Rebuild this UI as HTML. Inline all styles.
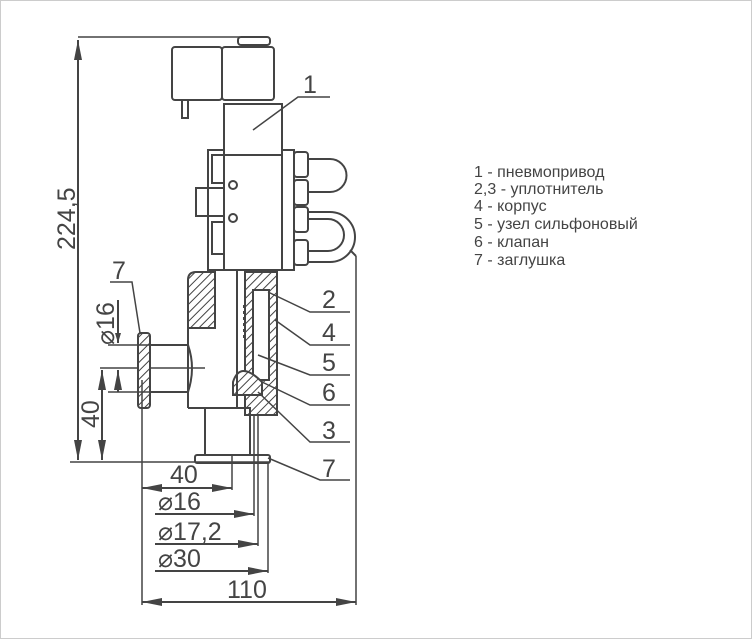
<!DOCTYPE html>
<html><head><style>
html,body{margin:0;padding:0;background:#fff;}
svg{display:block;}
text{font-family:"Liberation Sans",sans-serif;fill:#444;}
</style></head><body>
<svg width="752" height="639" viewBox="0 0 752 639" xmlns="http://www.w3.org/2000/svg">
<defs>
<pattern id="h" width="6" height="6" patternUnits="userSpaceOnUse" patternTransform="rotate(45)">
<rect width="6" height="6" fill="#fff"/><line x1="0" y1="0" x2="0" y2="6" stroke="#444" stroke-width="2"/></pattern>
<marker id="a" viewBox="0 0 10 6" refX="10" refY="3" markerWidth="10" markerHeight="6" orient="auto-start-reverse" markerUnits="userSpaceOnUse"><path d="M0,0L10,3L0,6z" fill="#444"/></marker>
<marker id="b" viewBox="0 0 20 8" refX="20" refY="4" markerWidth="20" markerHeight="8" orient="auto-start-reverse" markerUnits="userSpaceOnUse"><path d="M0,0L20,4L0,8z" fill="#444"/></marker>
</defs>
<rect x="0.5" y="0.5" width="751" height="638" fill="#fff" stroke="#ccc"/>
<g stroke="#444" stroke-width="2" fill="none">
<line x1="78" y1="37" x2="240" y2="37" stroke-width="1.5"/>
<line x1="78" y1="40" x2="78" y2="460" marker-start="url(#b)" marker-end="url(#b)"/>
<line x1="70" y1="462" x2="270" y2="462" stroke-width="1.5"/>
<rect x="238" y="37" width="32" height="8" rx="3"/>
<rect x="172" y="47" width="50" height="53" rx="3"/>
<rect x="222" y="47" width="52" height="53" rx="3"/>
<rect x="182" y="100" width="6" height="18"/>
<rect x="224" y="104" width="58" height="51"/>
<rect x="224" y="155" width="58" height="115"/>
<circle cx="233" cy="185" r="4"/><circle cx="233" cy="218" r="4"/>
<rect x="208" y="150" width="16" height="120"/>
<rect x="212" y="155" width="12" height="28"/>
<rect x="196" y="188" width="28" height="28"/>
<rect x="212" y="222" width="12" height="32"/>
<rect x="282" y="150" width="12" height="120"/>
<rect x="294" y="152" width="14" height="25" rx="3"/>
<rect x="294" y="180" width="14" height="25" rx="3"/>
<rect x="294" y="207" width="14" height="25" rx="3"/>
<rect x="294" y="240" width="14" height="25" rx="3"/>
<path d="M308,159 H330 A16,16 0 0 1 330,192 H308"/>
<path d="M308,212 H330 A25,25 0 0 1 330,262 H308"/>
<path d="M308,219 H328 A16,16 0 0 1 328,251 H308"/>
<line x1="350" y1="250" x2="356" y2="256"/>
<line x1="356" y1="256" x2="356" y2="605" stroke-width="1.5"/>
<polyline points="253,130 298,97 330,97" stroke-width="1.5"/>
<path d="M188,280 Q188,272 196,272 H215 V328 H188 Z" fill="url(#h)"/>
<line x1="188" y1="328" x2="188" y2="408"/>
<path d="M188,408 H245"/>
<rect x="245" y="272" width="32" height="143" fill="url(#h)"/>
<rect x="253" y="290" width="16" height="90" fill="#fff"/>
<path d="M233,382 Q240,360 262,382 L262,395 H233 Z" fill="url(#h)"/>
<line x1="237" y1="270" x2="237" y2="408"/>
<line x1="244" y1="305" x2="244" y2="340" stroke-dasharray="3,3"/>
<path d="M150,345 H188 M150,392 H188"/>
<path d="M188,345 Q196,368 188,392"/>
<line x1="100" y1="368" x2="205" y2="368" stroke-width="1.5"/>
<rect x="138" y="333" width="12" height="75" rx="3" fill="url(#h)"/>
<line x1="118" y1="300" x2="118" y2="343" marker-end="url(#a)"/>
<line x1="118" y1="392" x2="118" y2="370" marker-end="url(#b)"/>
<line x1="108" y1="345" x2="150" y2="345" stroke-width="1.5"/>
<line x1="108" y1="392" x2="150" y2="392" stroke-width="1.5"/>
<line x1="102" y1="370" x2="102" y2="460" marker-start="url(#b)" marker-end="url(#b)"/>
<polyline points="110,282 132,282 140,333" stroke-width="1.5"/>
<rect x="205" y="408" width="45" height="47"/>
<rect x="195" y="455" width="75" height="8" rx="2"/>
<line x1="232" y1="455" x2="232" y2="490" stroke-width="1.5"/>
<line x1="254" y1="415" x2="254" y2="516" stroke-width="1.5"/>
<line x1="258" y1="415" x2="258" y2="546" stroke-width="1.5"/>
<line x1="268" y1="463" x2="268" y2="573" stroke-width="1.5"/>
<line x1="142" y1="380" x2="142" y2="605" stroke-width="1.5"/>
<line x1="142" y1="488" x2="232" y2="488" marker-start="url(#b)" marker-end="url(#b)"/>
<line x1="155" y1="514" x2="254" y2="514" marker-end="url(#b)"/>
<line x1="155" y1="544" x2="258" y2="544" marker-end="url(#b)"/>
<line x1="155" y1="571" x2="268" y2="571" marker-end="url(#b)"/>
<line x1="142" y1="602" x2="356" y2="602" marker-start="url(#b)" marker-end="url(#b)"/>
<g stroke-width="1.5">
<polyline points="268,292 310,312 350,312"/>
<polyline points="275,320 310,345 350,345"/>
<polyline points="258,355 310,375 350,375"/>
<polyline points="262,382 310,405 350,405"/>
<polyline points="258,392 310,442 350,442"/>
<polyline points="268,458 320,480 350,480"/>
</g>
</g>
<g font-size="25">
<text x="303" y="93">1</text>
<text x="322" y="308">2</text>
<text x="322" y="341">4</text>
<text x="322" y="371">5</text>
<text x="322" y="401">6</text>
<text x="322" y="439">3</text>
<text x="322" y="477">7</text>
<text x="112" y="279">7</text>
<text x="170" y="483">40</text>
<text x="158" y="510">⌀16</text>
<text x="158" y="540">⌀17,2</text>
<text x="158" y="567">⌀30</text>
<text x="227" y="598">110</text>
<text transform="translate(75,250) rotate(-90)">224,5</text>
<text transform="translate(114,345) rotate(-90)">⌀16</text>
<text transform="translate(99,428) rotate(-90)">40</text>
</g>
<g font-size="16">
<text x="474" y="177">1 - пневмопривод</text>
<text x="474" y="194">2,3 - уплотнитель</text>
<text x="474" y="211">4 - корпус</text>
<text x="474" y="229">5 - узел сильфоновый</text>
<text x="474" y="247">6 - клапан</text>
<text x="474" y="265">7 - заглушка</text>
</g>
</svg>
</body></html>
